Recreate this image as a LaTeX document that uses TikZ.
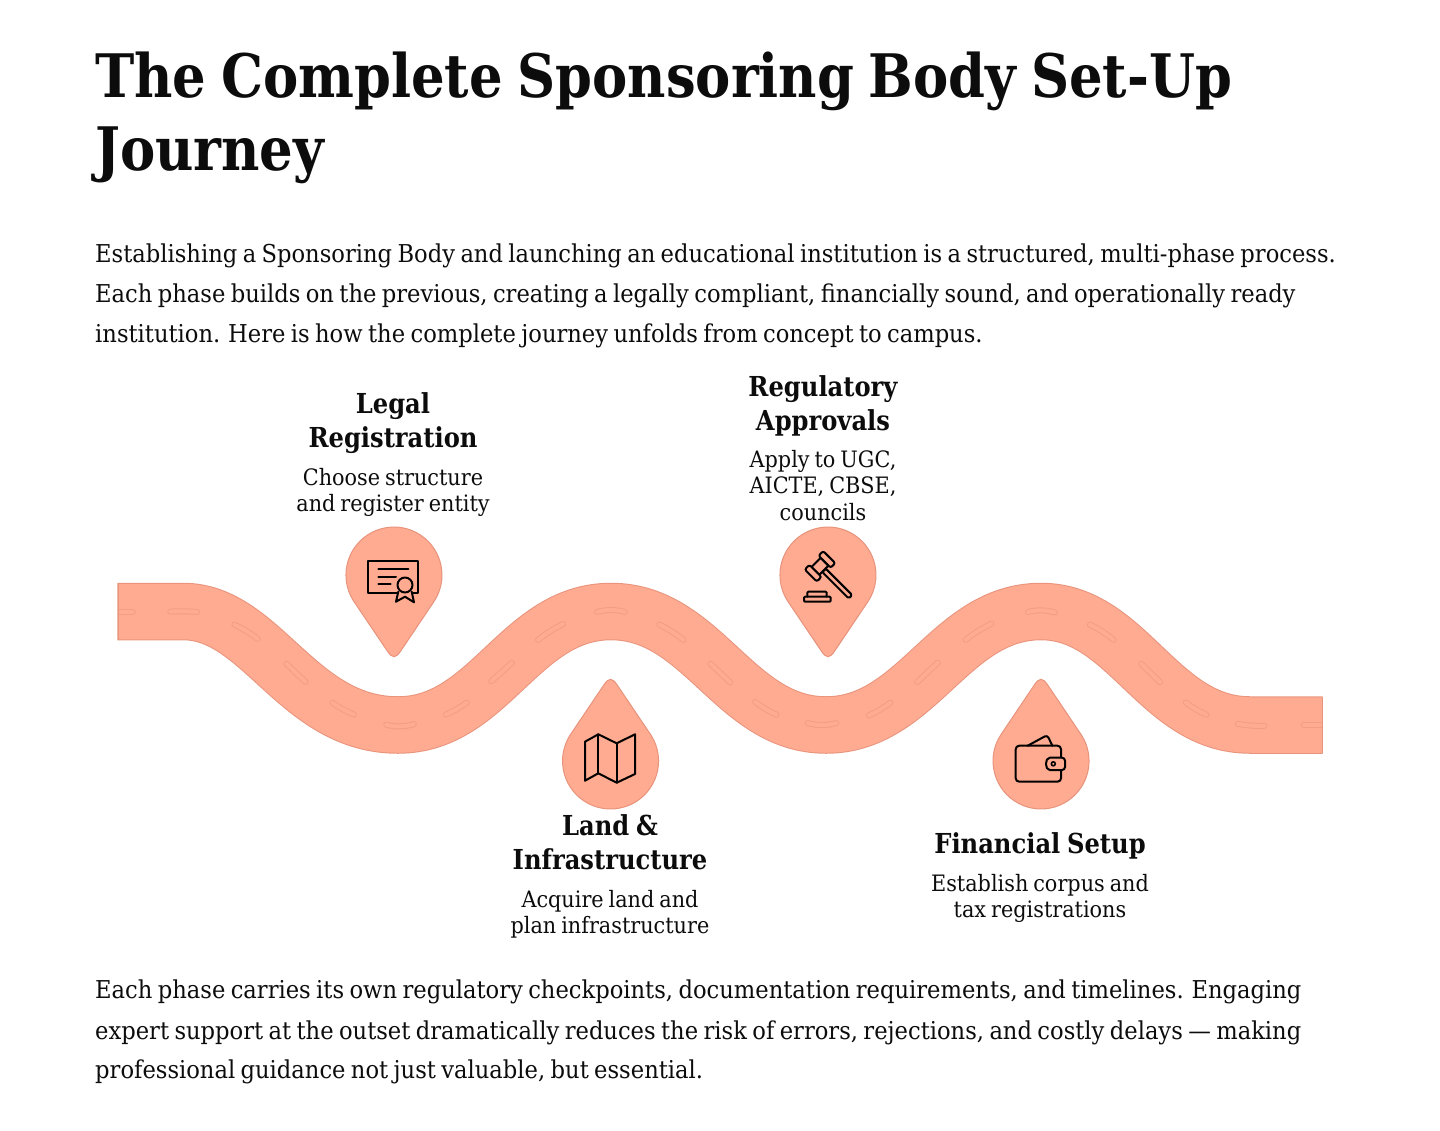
\documentclass[tikz,border=0pt]{standalone}
\usepackage{fontspec}
\setmainfont[FakeStretch=0.92,WordSpace=0.75]{DejaVu Serif}
\newfontfamily\titlefont[FakeStretch=0.88,WordSpace=0.8]{DejaVu Serif}
\usetikzlibrary{positioning, arrows.meta, calc}
\definecolor{roadfill}{HTML}{FFAB91}
\definecolor{roadline}{HTML}{E8937C}
\definecolor{dashline}{HTML}{F29D85}
\definecolor{inktext}{HTML}{0C0C0C}
\newcommand{\roadpath}{(118,611.5) -- (183,611.5)
  .. controls (262,611.5) and (297,725) .. (398,725)
  .. controls (490,725) and (519,611.5) .. (611,611.5)
  .. controls (703,611.5) and (734,725) .. (826,725)
  .. controls (918,725) and (949,611.5) .. (1041,611.5)
  .. controls (1128,611.5) and (1158,725) .. (1250,725) -- (1322,725)}
\begin{document}
\begin{tikzpicture}[
  x=1pt, y=-1pt,
  title/.style  = {anchor=base west, inner sep=0pt, text=inktext, font=\titlefont\fontsize{60}{60}\selectfont\bfseries},
  para/.style   = {anchor=base west, inner sep=0pt, text=inktext, font=\fontsize{24.6}{30}\selectfont},
  head/.style   = {anchor=north, inner sep=0pt, align=center, text=inktext, font=\titlefont\fontsize{27.5}{34.5}\selectfont\bfseries},
  desc/.style   = {anchor=north, inner sep=0pt, align=center, text=inktext, font=\fontsize{22.6}{26.6}\selectfont},
  icon/.style   = {draw=black, line width=2pt, line join=round, line cap=round},
  dashouter/.style = {dashline, line width=6pt, line cap=round, shorten <=3pt, shorten >=3pt},
  dashinner/.style = {roadfill, line width=4pt, line cap=round, shorten <=3pt, shorten >=3pt},
  dropshape/.style = {draw=roadline, fill=roadfill, line width=1pt},
  pics/drop/.style = {code={
    \path[dropshape] (39.8,26.8) arc[start angle=33.9, end angle=-213.9, radius=48]
      -- (-6.7,76) .. controls (-1.6,83.6) and (1.6,83.6) .. (6.7,76) -- cycle;
  }},
]
\useasboundingbox (0,0) rectangle (1440,1130);

% --- text ----------------------------------------------------------------
\node[title] (title1) at (95,97)    {The Complete Sponsoring Body Set-Up};
\node[title] (title2) at (95,170.5) {Journey};

\node[para] (intro1) at (95,262) {Establishing a Sponsoring Body and launching an educational institution is a structured, multi-phase process.};
\node[para] (intro2) at (95,302) {Each phase builds on the previous, creating a legally compliant, financially sound, and operationally ready};
\node[para] (intro3) at (95,342) {institution. Here is how the complete journey unfolds from concept to campus.};

% --- road ----------------------------------------------------------------
\draw[roadline, line width=57.5pt, shorten <=-0.7pt, shorten >=-0.7pt] \roadpath;
\draw[roadfill, line width=55.5pt] \roadpath;
\begin{scope}
  \clip (118,500) rectangle (1322,800);
  \foreach \xa/\ya/\xb/\yb/\bendby in {
      112/611.5/135.7/611.5/0, 167.3/611.7/200/612.3/-4, 231.7/623.3/260/640.7/-6,
      284.3/661.7/307.7/684/0, 330/701/356.7/715.7/6, 383.3/724/416.7/723.3/15,
      443.3/715.7/469/701/6, 489/683.3/514/661/0, 535.7/641.7/565.7/622.7/-6,
      594.3/612.7/627.7/612.7/-15, 656.7/623.3/685.7/641.7/-6, 708.3/661.7/732.3/684.3/0,
      752.7/700/779.3/716/6, 805/722.3/839/722.3/15, 866/716.7/892.7/701/6,
      915/684/940/660.7/0, 963.3/641.7/994.3/622.3/-6, 1025/612.7/1057.7/613.3/-15,
      1087.3/623.3/1116/641.7/-6, 1139/661.7/1162.3/684.3/0, 1183.3/700.7/1209.3/716/6,
      1235/723.3/1267.3/725.7/6, 1300.7/725/1328/725/0} {
    \draw[dashouter] (\xa,\ya) to[bend right=\bendby] (\xb,\yb);
    \draw[dashinner] (\xa,\ya) to[bend right=\bendby] (\xb,\yb);
  }
\end{scope}
\draw[roadline, line width=1pt] (118,583) -- (118,640);
\draw[roadline, line width=1pt] (1322,696.5) -- (1322,753);

% --- pins ----------------------------------------------------------------
\pic at (394,575) {drop};
\pic at (828,575) {drop};
\pic[rotate=180] at (610.5,761) {drop};
\pic[rotate=180] at (1041,761) {drop};

% --- certificate ---------------------------------------------------------
\draw[icon, line cap=butt] (368.3,560.7) rectangle (418.3,593.3);
\draw[icon] (378.3,569) -- (408.3,569);
\draw[icon] (378.3,576.7) -- (396,576.7);
\draw[icon] (378.3,584) -- (390.7,584);
\draw[icon, fill=roadfill] (398.3,591.7) -- (396,601.7) -- (405,596.7) -- (414,602.3) -- (411.7,591.7);
\draw[icon, fill=roadfill] (405,585) circle[radius=7.5];

% --- gavel ---------------------------------------------------------------
\begin{scope}[shift={(820,566.3)}, rotate=-45]
  \draw[icon, rounded corners=1.5pt] (5.5,-2.4) rectangle (43,2.4);
  \draw[icon, fill=roadfill] (-5.5,-6.5) rectangle (5.5,6.5);
  \draw[icon, fill=roadfill, rounded corners=2pt] (-8.5,-13) rectangle (8.5,-6.5);
  \draw[icon, fill=roadfill, rounded corners=2pt] (-8.5,6.5) rectangle (8.5,13);
\end{scope}
\draw[icon, rounded corners=1pt] (804,601.7) -- (804,596.7) -- (830.7,596.7) -- (830.7,601.7) -- cycle;
\draw[icon, rounded corners=1pt] (807.3,596.7) -- (807.3,591.7) -- (826.7,591.7) -- (826.7,596.7);

% --- map -----------------------------------------------------------------
\draw[icon] (585,741.7) -- (598.3,734.3) -- (616.7,743.3) -- (635,734.3) -- (635,774)
  -- (616.7,782.7) -- (598.3,773.3) -- (585,780.7) -- cycle;
\draw[icon] (598.3,734.3) -- (598.3,773.3);
\draw[icon] (616.7,743.3) -- (616.7,782.7);

% --- wallet --------------------------------------------------------------
\draw[icon, rounded corners=3pt] (1027.7,745.7) -- (1047.3,735) -- (1052.3,745.7);
\draw[icon, rounded corners=3.5pt] (1015.7,745.7) rectangle (1061,781.7);
\draw[icon, fill=roadfill, rounded corners=3pt] (1065,757.7) -- (1052.7,757.7)
  .. controls (1044.7,757.7) and (1044.7,770) .. (1052.7,770) -- (1065,770) -- cycle;
\draw[icon, line width=1.6pt] (1053.3,763.8) circle[radius=2];

% --- labels --------------------------------------------------------------
\node[head] (legalhead) at (393,392) {Legal\\Registration};
\node[desc] (legaldesc) at (393,468) {Choose structure\\and register entity};
\node[head] (reghead)   at (823,375) {Regulatory\\Approvals};
\node[desc] (regdesc)   at (823,450) {Apply to UGC,\\AICTE, CBSE,\\councils};
\node[head] (landhead)  at (610,814) {Land \&\\Infrastructure};
\node[desc] (landdesc)  at (610,890) {Acquire land and\\plan infrastructure};
\node[head] (finhead)   at (1040,832) {Financial Setup};
\node[desc] (findesc)   at (1040,874) {Establish corpus and\\tax registrations};

\node[para] (outro1) at (95,998)  {Each phase carries its own regulatory checkpoints, documentation requirements, and timelines. Engaging};
\node[para] (outro2) at (95,1039) {expert support at the outset dramatically reduces the risk of errors, rejections, and costly delays — making};
\node[para] (outro3) at (95,1078) {professional guidance not just valuable, but essential.};
\end{tikzpicture}
\end{document}
